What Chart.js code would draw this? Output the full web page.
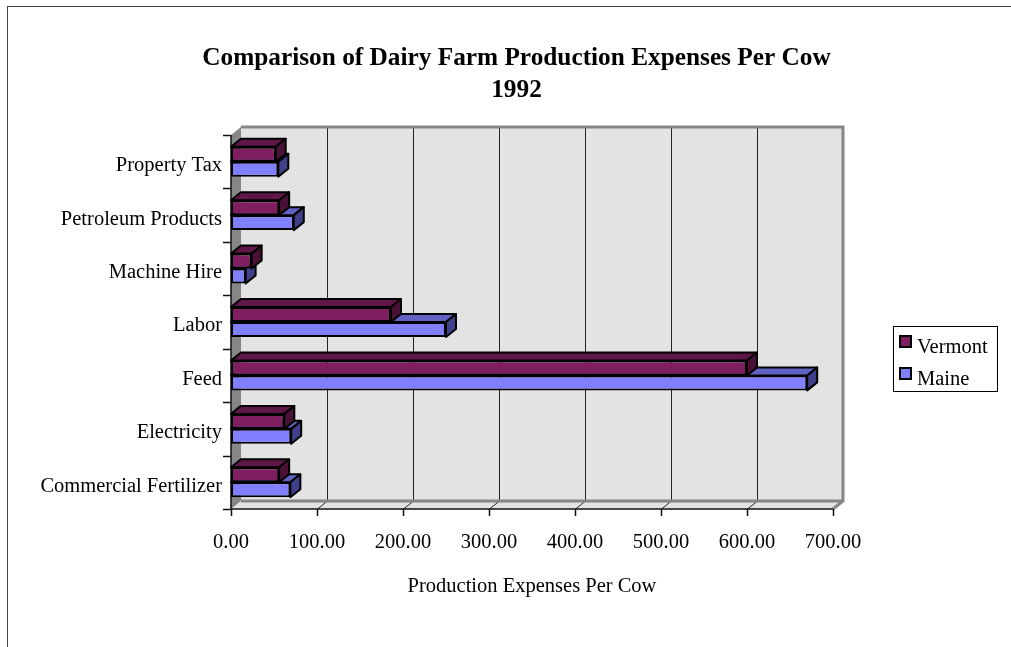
<!DOCTYPE html>
<html lang="en">
<head>
    <meta charset="UTF-8">
    <title>Dairy Farm Production Expenses</title>
    <style>
        body { margin: 0; background: #fff; }
        #wrap { width: 1011px; height: 647px; position: relative; }
    </style>
</head>
<body>
    <div id="wrap"><canvas id="myChart"></canvas></div>

    <script src="https://cdn.jsdelivr.net/npm/chart.js"></script>
    <script>
        // data
        const categories = ["Property Tax", "Petroleum Products", "Machine Hire", "Labor", "Feed", "Electricity", "Commercial Fertilizer"];
        const vermont = [52, 56, 24, 186, 600, 62, 56];
        const maine = [55, 73, 17, 250, 670, 70, 69];
        const xTicks = [0, 100, 200, 300, 400, 500, 600, 700];
        const titleLines = ["Comparison of Dairy Farm Production Expenses Per Cow", "1992"];

        const serif = "'Liberation Serif', 'Times New Roman', serif";
        const depthX = 10, depthY = -8;
        // front, top, side
        const shades = [
            ["#7f1f5f", "#5f1747", "#4b1238"],
            ["#8080ff", "#6262c4", "#40408a"]
        ];

        function poly(ctx, pts, fill, stroke, lw) {
            ctx.beginPath();
            ctx.moveTo(pts[0][0], pts[0][1]);
            for (let i = 1; i < pts.length; i++) ctx.lineTo(pts[i][0], pts[i][1]);
            ctx.closePath();
            if (fill) { ctx.fillStyle = fill; ctx.fill(); }
            if (stroke) { ctx.strokeStyle = stroke; ctx.lineWidth = lw; ctx.stroke(); }
        }

        const box3d = {
            id: "box3d",
            beforeDraw(chart) {
                const ctx = chart.ctx;
                ctx.save();
                ctx.fillStyle = "#fff";
                ctx.fillRect(0, 0, chart.width, chart.height);
                ctx.strokeStyle = "#444";
                ctx.lineWidth = 1;
                ctx.strokeRect(7.5, 6.5, 2000, 2000);
                // title
                ctx.fillStyle = "#000";
                ctx.font = "bold 25.3px " + serif;
                ctx.textAlign = "center";
                ctx.textBaseline = "middle";
                titleLines.forEach((t, i) => ctx.fillText(t, 516.5, 58 + i * 32));
                ctx.restore();
            },
            beforeDatasetsDraw(chart) {
                const ctx = chart.ctx;
                const a = chart.chartArea;
                const L = a.left, R = a.right, T = a.top, B = a.bottom;
                const xs = chart.scales.x, ys = chart.scales.y;
                ctx.save();
                // back wall
                ctx.fillStyle = "#e3e3e3";
                ctx.fillRect(L + depthX, T + depthY, R - L, B - T);
                // floor
                poly(ctx, [[L, B], [L + depthX, B + depthY], [R + depthX, B + depthY], [R, B]], "#e3e3e3");
                // left wall
                poly(ctx, [[L, T], [L + depthX, T + depthY], [L + depthX, B + depthY], [L, B]], "#868686");
                // grid lines on the back wall and floor
                ctx.strokeStyle = "#222";
                ctx.lineWidth = 1;
                xTicks.forEach(v => {
                    const px = Math.round(xs.getPixelForValue(v)) + 0.5;
                    ctx.beginPath();
                    if (v > 0 && v < 700) {
                        ctx.moveTo(px + depthX, T + depthY);
                        ctx.lineTo(px + depthX, B + depthY);
                    }
                    if (v > 0) {
                        ctx.moveTo(px, B);
                        ctx.lineTo(px + depthX, B + depthY);
                    }
                    ctx.stroke();
                });
                // wall edges
                ctx.strokeStyle = "#868686";
                ctx.lineWidth = 3;
                ctx.beginPath();
                ctx.moveTo(L + depthX, T + depthY);
                ctx.lineTo(R + depthX, T + depthY);
                ctx.lineTo(R + depthX, B + depthY);
                ctx.lineTo(R, B);
                ctx.moveTo(L + depthX, B + depthY);
                ctx.lineTo(R + depthX, B + depthY);
                ctx.stroke();
                // axes
                ctx.strokeStyle = "#111";
                ctx.lineWidth = 1.5;
                ctx.beginPath();
                ctx.moveTo(L, T);
                ctx.lineTo(L, B);
                ctx.lineTo(R, B);
                xTicks.forEach(v => {
                    const px = Math.round(xs.getPixelForValue(v)) + 0.5;
                    ctx.moveTo(px, B);
                    ctx.lineTo(px, B + 7);
                });
                for (let i = 0; i <= categories.length; i++) {
                    const py = Math.round(ys.getPixelForValue(i - 0.5)) + 0.5;
                    ctx.moveTo(L - 8, py);
                    ctx.lineTo(L, py);
                }
                ctx.stroke();
                ctx.restore();
            },
            afterDatasetDraw(chart, args) {
                const ctx = chart.ctx;
                const c = shades[args.index];
                ctx.save();
                ctx.lineJoin = "round";
                args.meta.data.forEach(el => {
                    const p = el.getProps(["x", "y", "base", "height"], true);
                    const top = p.y - p.height / 2, bot = p.y + p.height / 2;
                    poly(ctx, [[p.base, top], [p.base + depthX, top + depthY], [p.x + depthX, top + depthY], [p.x, top]], c[1], "#000", 2);
                    poly(ctx, [[p.x, top], [p.x + depthX, top + depthY], [p.x + depthX, bot + depthY], [p.x, bot]], c[2], "#000", 2);
                });
                ctx.restore();
            },
            afterDraw(chart) {
                const ctx = chart.ctx;
                ctx.save();
                ctx.fillStyle = "#fff";
                ctx.fillRect(893, 326, 104, 65);
                ctx.strokeStyle = "#000";
                ctx.lineWidth = 1;
                ctx.strokeRect(893.5, 326.5, 104, 65);
                ctx.font = "20.5px " + serif;
                ctx.textBaseline = "middle";
                chart.data.datasets.forEach((ds, i) => {
                    const y = 336 + i * 32;
                    ctx.fillStyle = ds.backgroundColor;
                    ctx.fillRect(900, y, 11, 11);
                    ctx.lineWidth = 2;
                    ctx.strokeRect(900, y, 11, 11);
                    ctx.fillStyle = "#000";
                    ctx.fillText(ds.label, 917, y + 12);
                });
                ctx.restore();
            }
        };

        new Chart(document.getElementById("myChart"), {
            type: "bar",
            data: {
                labels: categories,
                datasets: [
                    { label: "Vermont", data: vermont, backgroundColor: shades[0][0], borderColor: "#000", borderWidth: 2, borderSkipped: false },
                    { label: "Maine", data: maine, backgroundColor: shades[1][0], borderColor: "#000", borderWidth: 2, borderSkipped: false }
                ]
            },
            options: {
                indexAxis: "y",
                responsive: true,
                maintainAspectRatio: false,
                animation: false,
                categoryPercentage: 0.56,
                barPercentage: 1,
                layout: { padding: { left: 22, top: 135, right: 178, bottom: 0 } },
                plugins: {
                    legend: { display: false },
                    tooltip: { enabled: false },
                    title: { display: false }
                },
                scales: {
                    x: {
                        min: 0,
                        max: 700,
                        grid: { display: false, drawTicks: false },
                        border: { display: false },
                        ticks: {
                            stepSize: 100,
                            color: "#000",
                            font: { family: serif, size: 20.5 },
                            padding: 21,
                            callback: v => v.toFixed(2)
                        },
                        title: {
                            display: true,
                            text: "Production Expenses Per Cow",
                            color: "#000",
                            font: { family: serif, size: 20.5 },
                            padding: { top: 0, bottom: 48 }
                        },
                        afterFit: s => { s.height = 138; }
                    },
                    y: {
                        grid: { display: false, drawTicks: false },
                        border: { display: false },
                        ticks: {
                            color: "#000",
                            font: { family: serif, size: 20.5 },
                            padding: 9,
                            labelOffset: 4
                        },
                        afterFit: s => { s.width = 209; }
                    }
                }
            },
            plugins: [box3d]
        });
    </script>
</body>
</html>
